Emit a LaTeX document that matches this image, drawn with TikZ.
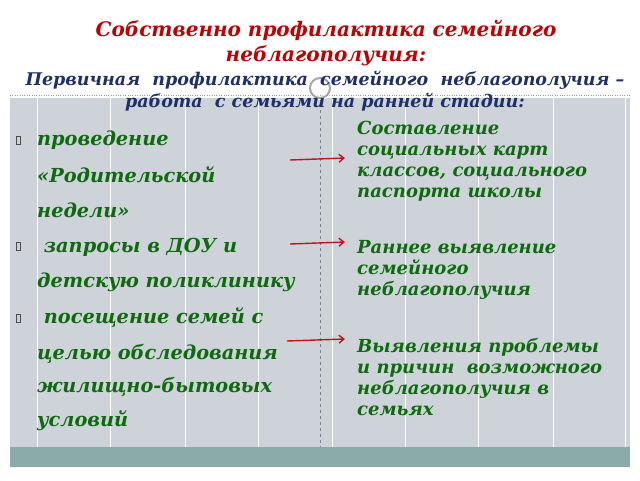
\documentclass[tikz,border=0pt]{standalone}
\usepackage{fontspec}
\setmainfont{DejaVu Serif}
\usetikzlibrary{arrows.meta}
\definecolor{panel}{HTML}{CDD3D9}
\definecolor{strip}{HTML}{8BAAAA}
\definecolor{tred}{HTML}{C00000}
\definecolor{tblue}{HTML}{1F2F6B}
\definecolor{tgreen}{HTML}{0F6A0F}
\definecolor{arr}{HTML}{C0141E}
\tikzset{
 lt/.style={anchor=west,inner sep=0pt,text=tgreen,font=\fontsize{19.3}{19}\selectfont\bfseries\itshape},
 rt/.style={anchor=north west,inner sep=0pt,align=left,text=tgreen,font=\fontsize{18}{21}\selectfont\bfseries\itshape},
 arrw/.style={draw=arr,line width=1.4pt,-{Straight Barb[length=5pt,width=8pt]}},
 bul/.style={draw=black!70,line width=0.4pt,minimum width=4pt,minimum height=8pt,inner sep=0pt}
}
\begin{document}
\begin{tikzpicture}[x=1pt,y=-1pt]
\useasboundingbox (0,0) rectangle (640,480);
\fill[white] (0,0) rectangle (640,480);
\fill[panel] (10,98) rectangle (630,447);
\foreach \x in {37,110,185,258,332,405,478,553,625} \draw[white,line width=0.8pt] (\x,98) -- (\x,447);
\draw[black!50,dashed,line width=0.4pt] (320,98) -- (320,447);
\draw[black!40,dotted] (10,95) -- (630,95);
\fill[strip] (10,447) rectangle (630,467);
\draw[white,line width=4pt] (320,88) circle (10);
\draw[gray!70,line width=2pt] (320,88) circle (10);
\node[inner sep=0pt,align=center,text=tred,font=\fontsize{20}{25}\selectfont\bfseries\itshape] (title) at (326,43) {Собственно профилактика семейного\\неблагополучия:};
\node[inner sep=0pt,align=center,text=tblue,font=\fontsize{17.5}{22}\selectfont\bfseries\itshape] (sub) at (325,91) {Первичная\ \ профилактика\ \ семейного\ \ неблагополучия –\\работа\ \ с семьями на ранней стадии:};
\foreach \y in {140,246,318} \node[bul] at (18,\y) {};
\node[lt] (l1) at (37,140) {проведение};
\node[lt] (l2) at (37,175) {«Родительской};
\node[lt] (l3) at (37,210) {недели»};
\node[lt] (l4) at (37,247) {\ запросы в ДОУ и};
\node[lt] (l5) at (37,282) {детскую поликлинику};
\node[lt] (l6) at (37,318) {\ посещение семей с};
\node[lt] (l7) at (37,354) {целью обследования};
\node[lt] (l8) at (37,387) {жилищно-бытовых};
\node[lt] (l9) at (37,421) {условий};
\node[rt] (r1) at (357,121) {Составление\\социальных карт\\классов, социального\\паспорта школы};
\node[rt] (r2) at (357,240) {Раннее выявление\\семейного\\неблагополучия};
\node[rt] (r3) at (357,338) {Выявления проблемы\\и причин\ \ возможного\\неблагополучия в\\семьях};
\coordinate (a1) at (290,160); \coordinate (b1) at (345,158);
\coordinate (a2) at (290,244); \coordinate (b2) at (345,242);
\coordinate (a3) at (287,341); \coordinate (b3) at (345,339);
\draw[arrw] (a1) -- (b1);
\draw[arrw] (a2) -- (b2);
\draw[arrw] (a3) -- (b3);
\end{tikzpicture}
\end{document}
